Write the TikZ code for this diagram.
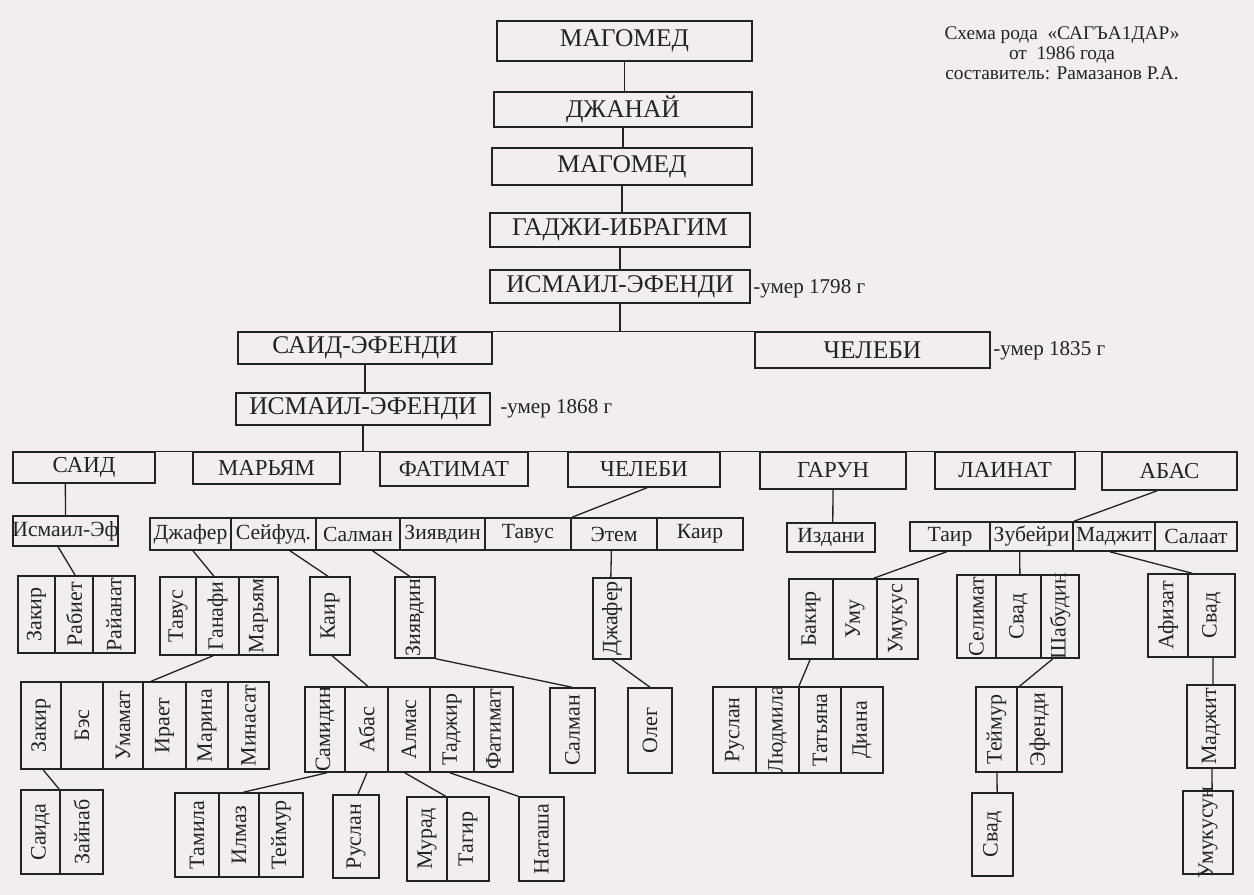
\documentclass[tikz,border=0pt]{standalone}
\usepackage{fontspec}
\setmainfont{Liberation Serif}
\usepackage{graphicx}
\usetikzlibrary{calc}
\definecolor{bg}{RGB}{243,238,238}
\definecolor{ink}{RGB}{35,35,35}
\tikzset{
  box/.style={draw=ink, line width=0.85pt, inner sep=0pt, text=ink},
  ln/.style={draw=ink, line width=0.75pt},
  fA/.style={font=\fontsize{14.5}{16}\selectfont},
  fB/.style={font=\fontsize{13}{15}\selectfont},
  fC/.style={font=\fontsize{12.3}{14}\selectfont},
  fN/.style={font=\fontsize{12}{14}\selectfont, text=ink, inner sep=0pt},
}
% \bx[style]{x1}{x2}{y1}{y2}{name}{text}
\newcommand\bx[7][]{\node[box,#1,minimum width={(#3-#2)*0.02cm},minimum height={(#5-#4)*0.02cm}] (#6) at ({(#2+#3)/2},{(#4+#5)/2}) {\makebox[0pt]{#7}};}
% vertical-text cell
\newcommand\bv[6]{\node[box,font=\fontsize{12.5}{14}\selectfont,minimum width={(#2-#1)*0.02cm},minimum height={(#4-#3)*0.02cm}] (#5) at ({(#1+#2)/2},{(#3+#4)/2}) {\rotatebox{90}{\makebox[0pt]{#6}}};}
% connector: from fraction along a.south to fraction along b.north
\newcommand\conn[4]{\draw[ln] ($(#1.south west)!#2!(#1.south east)$) -- ($(#3.north west)!#4!(#3.north east)$);}
\begin{document}
\begin{tikzpicture}[x=0.02cm,y=-0.02cm]
\fill[bg] (0,0) rectangle (1254,895);
\useasboundingbox (0,0) rectangle (1254,895);

% title
\node[align=center, font=\fontsize{11}{11.5}\selectfont, text=ink] (title) at (1062,53)
  {Схема рода~ «САГЪА1ДАР»\\от~ 1986 года\\составитель: Рамазанов Р.А.};

% upper chain
\bx[fA]{497}{752}{21}{61}{m1}{МАГОМЕД}
\bx[fA]{494}{752}{92}{127}{dz}{ДЖАНАЙ}
\bx[fA]{492}{752}{148}{185}{m2}{МАГОМЕД}
\bx[fA]{490}{750}{213}{247}{gi}{ГАДЖИ-ИБРАГИМ}
\bx[fA]{490}{750}{270}{303}{ie1}{ИСМАИЛ-ЭФЕНДИ}
\bx[fA]{238}{492}{332}{364}{se}{САИД-ЭФЕНДИ}
\bx[fA]{755}{990}{332}{368}{ch}{ЧЕЛЕБИ}
\bx[fA]{236}{490}{393}{425}{ie2}{ИСМАИЛ-ЭФЕНДИ}

\node[fN, anchor=west] (d1) at (753,289) {-умер 1798 г};
\node[fN, anchor=west] (d2) at (993,351) {-умер 1835 г};
\node[fN, anchor=west] (d3) at (500,409) {-умер 1868 г};

\draw[ln] (m1.south) -- (m1.south |- dz.north);
\draw[ln] (dz.south) -- (dz.south |- m2.north);
\draw[ln] (m2.south) -- (m2.south |- gi.north);
\draw[ln] (gi.south) -- (gi.south |- ie1.north);
\draw[ln] (ie1.south) -- (ie1.south |- se.north);
\draw[ln] (se.north west) -- (ch.north east);
\draw[ln] (se.south) -- (se.south |- ie2.north);

% generation row
\bx[fB]{13}{155}{452}{483}{said}{САИД}
\bx[fB]{193}{340}{452}{484}{mar}{МАРЬЯМ}
\bx[fB]{380}{528}{452}{486}{fat}{ФАТИМАТ}
\bx[fB]{568}{720}{452}{487}{che}{ЧЕЛЕБИ}
\bx[fB]{760}{906}{452}{489}{gar}{ГАРУН}
\bx[fB]{935}{1075}{452}{489}{lai}{ЛАИНАТ}
\bx[fB]{1102}{1237}{452}{490}{aba}{АБАС}
\draw[ln] (ie2.south) -- (ie2.south |- said.north);
\draw[ln] (said.north west) -- (aba.north east);

% row 3
\bx[fC]{13}{118}{516}{546}{ism}{Исмаил-Эф}
\bx[fC]{150}{231}{518}{550}{dzh}{Джафер}
\bx[fC]{231}{316}{518}{550}{sei}{Сейфуд.}
\bx[fC]{316}{400}{518}{550}{sal}{Салман}
\bx[fC]{400}{485}{518}{550}{ziy}{Зиявдин}
\bx[fC]{485}{571}{518}{550}{tav}{Тавус}
\bx[fC]{571}{657}{518}{550}{ete}{Этем}
\bx[fC]{657}{743}{518}{550}{kai}{Каир}
\bx[fC]{787}{875}{523}{552}{izd}{Издани}
\bx[fC]{910}{990}{522}{551}{tai}{Таир}
\bx[fC]{990}{1073}{522}{551}{zub}{Зубейри}
\bx[fC]{1073}{1155}{522}{551}{madz}{Маджит}
\bx[fC]{1155}{1237}{522}{551}{sala}{Салаат}

\conn{said}{0.37}{ism}{0.5}
\conn{che}{0.52}{ete}{0.02}
\conn{gar}{0.5}{izd}{0.52}
\conn{aba}{0.41}{madz}{0.02}

% row 4
\bv{18}{55}{576}{653}{r4a}{Закир}
\bv{55}{93}{576}{653}{r4b}{Рабиет}
\bv{93}{135}{576}{653}{r4c}{Райанат}
\bv{160}{196}{577}{655}{r4d}{Тавус}
\bv{196}{239}{577}{655}{r4e}{Ганафи}
\bv{239}{278}{577}{655}{r4f}{Марьям}
\bv{310}{350}{577}{655}{r4g}{Каир}
\bv{395}{435}{577}{658}{r4h}{Зиявдин}
\bv{593}{631}{578}{659}{r4i}{Джафер}
\bv{789}{833}{579}{659}{r4j}{Бакир}
\bv{833}{877}{579}{659}{r4k}{Уму}
\bv{877}{918}{579}{659}{r4l}{Умукус}
\bv{957}{996}{575}{658}{r4m}{Селимат}
\bv{996}{1041}{575}{658}{r4n}{Свад}
\bv{1041}{1079}{575}{658}{r4o}{Шабудин}
\bv{1148}{1188}{574}{657}{r4p}{Афизат}
\bv{1188}{1235}{574}{657}{r4q}{Свад}

\conn{ism}{0.43}{r4b}{0.53}
\conn{dzh}{0.53}{r4e}{0.42}
\conn{sei}{0.69}{r4g}{0.45}
\conn{sal}{0.67}{r4h}{0.37}
\conn{ete}{0.47}{r4i}{0.47}
\conn{tai}{0.46}{r4k}{0.91}
\conn{zub}{0.36}{r4n}{0.53}
\conn{madz}{0.45}{r4q}{0.1}

% row 5
\bv{21}{61}{682}{769}{r5a}{Закир}
\bv{61}{103}{682}{769}{r5b}{Бэс}
\bv{103}{143}{682}{769}{r5c}{Умамат}
\bv{143}{186}{682}{769}{r5d}{Ирает}
\bv{186}{228}{682}{769}{r5e}{Марина}
\bv{228}{269}{682}{769}{r5f}{Минасат}
\bv{305}{345}{687}{772}{r5g}{Самидин}
\bv{345}{388}{687}{772}{r5h}{Абас}
\bv{388}{430}{687}{772}{r5i}{Алмас}
\bv{430}{474}{687}{772}{r5j}{Таджир}
\bv{474}{513}{687}{772}{r5k}{Фатимат}
\bv{550}{595}{688}{773}{r5l}{Салман}
\bv{628}{672}{688}{773}{r5m}{Олег}
\bv{713}{756}{687}{773}{r5n}{Руслан}
\bv{756}{799}{687}{773}{r5o}{Людмила}
\bv{799}{841}{687}{773}{r5p}{Татьяна}
\bv{841}{883}{687}{773}{r5q}{Диана}
\bv{976}{1017}{687}{772}{r5r}{Теймур}
\bv{1017}{1062}{687}{772}{r5s}{Эфенди}
\bv{1187}{1235}{685}{768}{r5t}{Маджит}

\conn{r4e}{0.4}{r5d}{0.2}
\conn{r4g}{0.55}{r5h}{0.53}
\conn{r4h}{1}{r5l}{0.49}
\conn{r4i}{0.5}{r5m}{0.5}
\conn{r4j}{0.48}{r5o}{0.98}
\conn{r4o}{0.32}{r5s}{0.07}
\conn{r4q}{0.53}{r5t}{0.54}

% row 6
\bv{21}{60}{790}{874}{r6a}{Саида}
\bv{60}{103}{790}{874}{r6b}{Зайнаб}
\bv{175}{219}{793}{877}{r6c}{Тамила}
\bv{219}{259}{793}{877}{r6d}{Илмаз}
\bv{259}{303}{793}{877}{r6e}{Теймур}
\bv{333}{379}{795}{878}{r6f}{Руслан}
\bv{407}{447}{797}{881}{r6g}{Мурад}
\bv{447}{489}{797}{881}{r6h}{Тагир}
\bv{519}{564}{797}{881}{r6i}{Наташа}
\bv{972}{1013}{793}{876}{r6j}{Свад}
\bv{1183}{1233}{791}{874}{r6k}{Умукусун}

\conn{r5a}{0.55}{r6b}{0}
\conn{r5g}{0.55}{r6d}{0.6}
\conn{r5h}{0.51}{r6f}{0.54}
\conn{r5i}{0.4}{r6g}{0.95}
\conn{r5j}{0.45}{r6i}{0}
\conn{r5r}{0.51}{r6j}{0.61}
\conn{r5t}{0.52}{r6k}{0.58}
\end{tikzpicture}
\end{document}
